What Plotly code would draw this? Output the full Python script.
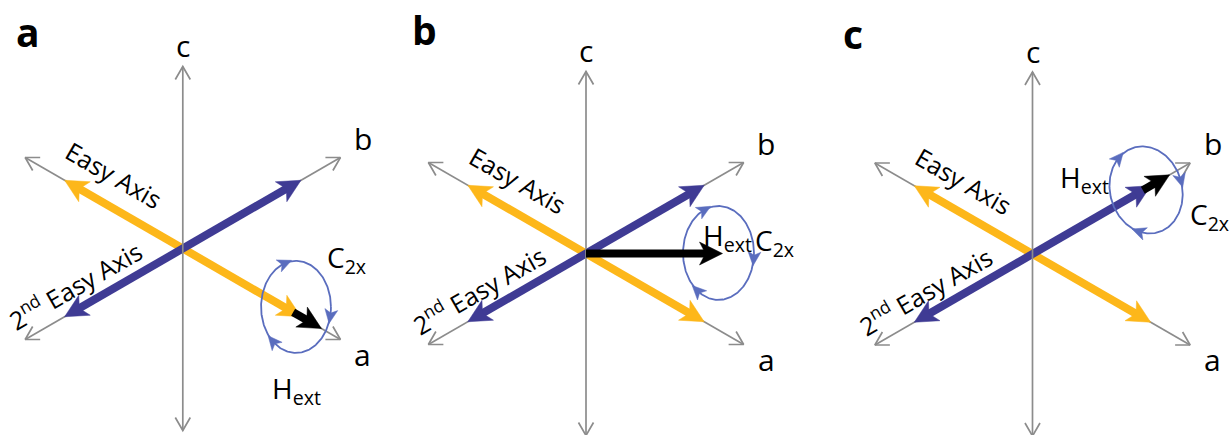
import numpy as np
import plotly.graph_objects as go

# ---------------- diagram data (projected crystal frame, unit = axis half-length) -------------
panel_names = ["a", "b", "c"]
crystal_axis_names = ["a", "b", "c"]
crystal_axis_angle = [-30.0, 30.0, 90.0]          # projected directions, degrees
crystal_axis_length = [1.0, 1.0, 1.0]

easy_axis_angle = -30.0                            # easy axis lies along a
easy_axis_length = 0.75
second_easy_axis_angle = 30.0                      # 2nd easy axis lies along b
second_easy_axis_length = 0.75

field_angle = [-30.0, 0.0, 30.0]                   # H_ext direction in each panel
field_length = [0.88, 0.75, 0.87]
field_drawn_from = [0.70, 0.0, 0.70]               # part hidden under the easy-axis arrows is skipped

loop_center_x = [0.622, 0.728, 0.624]              # C2x rotation loop
loop_center_y = [-0.321, 0.003, 0.352]
loop_rx = [0.192, 0.195, 0.198]
loop_ry = [0.253, 0.258, 0.242]
loop_tilt = [0.0, 0.0, 15.0]
loop_head_phase = [108.0, 113.0, 120.0]

# ---------------- page layout ----------------
W, H = 1231, 435
PX = 182.0                                          # pixels per unit
panel_origin_px = [(182.8, 248.5), (586.0, 253.5), (1032.5, 254.0)]
panel_bounds_px = [(0, 410), (410, 820), (820, 1231)]

ORANGE = "#FDB71A"
INDIGO = "#3F3B94"
LOOP = "#5A6DBE"
GREY = "#8C8C8C"
FONT = "Open Sans"

fig = go.Figure()


def refs(i):
    s = "" if i == 0 else str(i + 1)
    return "x" + s, "y" + s


def unit(deg):
    r = np.radians(deg)
    return np.array([np.cos(r), np.sin(r)])


def add_line(i, pts, color, width):
    xr, yr = refs(i)
    pts = np.asarray(pts)
    fig.add_trace(go.Scatter(x=pts[:, 0], y=pts[:, 1], mode="lines",
                             line=dict(color=color, width=width),
                             xaxis=xr, yaxis=yr, hoverinfo="skip", showlegend=False))


def add_head(i, tip, u, length, half, notch, color):
    xr, yr = refs(i)
    v = np.array([-u[1], u[0]])
    pts = np.array([tip,
                    tip - length * u + half * v,
                    tip - (length - notch) * u,
                    tip - length * u - half * v,
                    tip])
    fig.add_trace(go.Scatter(x=pts[:, 0], y=pts[:, 1], mode="lines", fill="toself",
                             fillcolor=color, line=dict(color=color, width=0.5),
                             xaxis=xr, yaxis=yr, hoverinfo="skip", showlegend=False))


HEAD_LEN, HEAD_HALF, HEAD_NOTCH = 23 / PX, 11.5 / PX, 6 / PX
SMALL_LEN, SMALL_HALF, SMALL_NOTCH = 14 / PX, 6.5 / PX, 3.5 / PX
V_ARM = 15 / PX


def bold_arrow(i, start, end, color, both=False):
    start, end = np.asarray(start, float), np.asarray(end, float)
    u = (end - start) / np.linalg.norm(end - start)
    back = HEAD_LEN - HEAD_NOTCH - 1 / PX
    s = start + back * u if both else start
    add_line(i, [s, end - back * u], color, 8)
    add_head(i, end, u, HEAD_LEN, HEAD_HALF, HEAD_NOTCH, color)
    if both:
        add_head(i, start, -u, HEAD_LEN, HEAD_HALF, HEAD_NOTCH, color)


def grey_axis(i, deg, length):
    u = unit(deg)
    v = np.array([-u[1], u[0]])
    for sgn in (1, -1):
        tip = sgn * length * u
        d = sgn * u
        a1 = tip - V_ARM * (np.cos(np.radians(30)) * d + np.sin(np.radians(30)) * v)
        a2 = tip - V_ARM * (np.cos(np.radians(30)) * d - np.sin(np.radians(30)) * v)
        add_line(i, [a1, tip, a2], GREY, 1.7)
    add_line(i, [-length * u, length * u], GREY, 1.7)


for i in range(3):
    # thin crystal axes a and b lie underneath the easy-axis arrows
    for k in range(2):
        grey_axis(i, crystal_axis_angle[k], crystal_axis_length[k])

    ue = unit(easy_axis_angle)
    bold_arrow(i, -easy_axis_length * ue, easy_axis_length * ue, ORANGE, both=True)
    us = unit(second_easy_axis_angle)
    bold_arrow(i, -second_easy_axis_length * us, second_easy_axis_length * us, INDIGO, both=True)

    grey_axis(i, crystal_axis_angle[2], crystal_axis_length[2])

    # C2x loop with three rotation arrowheads (clockwise)
    th = np.radians(loop_tilt[i])
    t = np.linspace(0, 2 * np.pi, 241)
    cx, cy, rx, ry = loop_center_x[i], loop_center_y[i], loop_rx[i], loop_ry[i]
    ex = cx + rx * np.cos(t) * np.cos(th) - ry * np.sin(t) * np.sin(th)
    ey = cy + rx * np.cos(t) * np.sin(th) + ry * np.sin(t) * np.cos(th)
    add_line(i, np.column_stack([ex, ey]), LOOP, 1.8)
    for k in range(3):
        tk = np.radians(loop_head_phase[i] + 120 * k)
        p = np.array([cx + rx * np.cos(tk) * np.cos(th) - ry * np.sin(tk) * np.sin(th),
                      cy + rx * np.cos(tk) * np.sin(th) + ry * np.sin(tk) * np.cos(th)])
        d = -np.array([-rx * np.sin(tk) * np.cos(th) - ry * np.cos(tk) * np.sin(th),
                       -rx * np.sin(tk) * np.sin(th) + ry * np.cos(tk) * np.cos(th)])
        d /= np.linalg.norm(d)
        add_head(i, p + 0.5 * SMALL_LEN * d, d, SMALL_LEN, SMALL_HALF, SMALL_NOTCH, LOOP)

    # external field
    uh = unit(field_angle[i])
    bold_arrow(i, field_drawn_from[i] * uh, field_length[i] * uh, "black")

# ---------------- axes ----------------
for i in range(3):
    cxp, cyp = panel_origin_px[i]
    x0, x1 = panel_bounds_px[i]
    s = "" if i == 0 else str(i + 1)
    fig.layout["xaxis" + s] = dict(domain=[x0 / W, x1 / W],
                                   range=[(x0 - cxp) / PX, (x1 - cxp) / PX],
                                   visible=False, fixedrange=True, anchor="y" + s)
    fig.layout["yaxis" + s] = dict(domain=[0, 1], range=[(cyp - H) / PX, cyp / PX],
                                   visible=False, fixedrange=True, anchor="x" + s)

# ---------------- text ----------------
panel_letter_pos = [(-0.85, 1.19), (-0.885, 1.23), (-0.985, 1.21)]
axis_label_pos = {"a": (0.99, -0.58), "b": (0.99, 0.605), "c": (0.0, 1.115)}
easy_label_pos = (-0.376, 0.403)
second_label_pos = (-0.59, -0.2)
field_label_pos = [(0.622, -0.78), (0.78, 0.09), (0.285, 0.41)]
loop_label_pos = [(0.9, -0.055), (1.035, 0.065), (0.97, 0.21)]


def text(i, xy, s, size, angle=0, bold=False):
    xr, yr = refs(i)
    fig.add_annotation(x=xy[0], y=xy[1], xref=xr, yref=yr, text=s, showarrow=False,
                       textangle=angle, xanchor="center", yanchor="middle",
                       font=dict(family=FONT, size=size, color="black",
                                 weight="bold" if bold else "normal"))


for i in range(3):
    text(i, panel_letter_pos[i], panel_names[i], 39, bold=True)
    for name in crystal_axis_names:
        text(i, axis_label_pos[name], name, 30)
    text(i, easy_label_pos, "Easy Axis", 25, angle=30)
    text(i, second_label_pos, "2<sup>nd</sup> Easy Axis", 25, angle=-30)
    text(i, field_label_pos[i], "H<sub>ext</sub>", 28)
    text(i, loop_label_pos[i], "C<sub>2x</sub>", 28)

fig.update_layout(width=W, height=H, autosize=False,
                  margin=dict(l=0, r=0, t=0, b=0),
                  paper_bgcolor="white", plot_bgcolor="white", showlegend=False)

fig.write_html("out.html")
